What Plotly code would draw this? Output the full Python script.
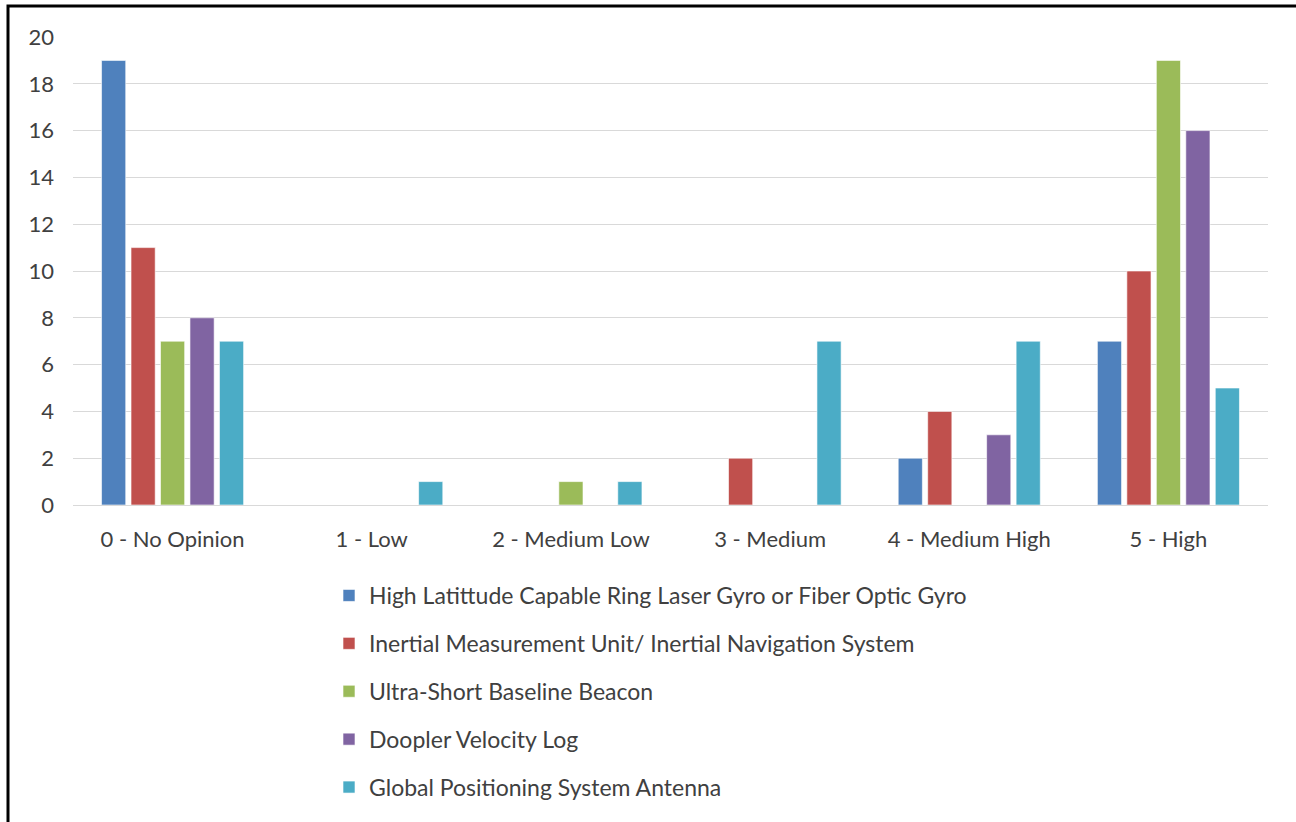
import plotly.graph_objects as go

categories = ["0 - No Opinion", "1 - Low", "2 - Medium Low", "3 - Medium", "4 - Medium High", "5 - High"]

series_names = [
    "High Latittude Capable Ring Laser Gyro or Fiber Optic Gyro",
    "Inertial Measurement Unit/ Inertial Navigation System",
    "Ultra-Short Baseline Beacon",
    "Doopler Velocity Log",
    "Global Positioning System Antenna",
]

gyro = [19, 0, 0, 0, 2, 7]
imu_ins = [11, 0, 0, 2, 4, 10]
usbl = [7, 0, 1, 0, 0, 19]
dvl = [8, 0, 0, 0, 3, 16]
gps = [7, 1, 1, 7, 7, 5]

series_values = [gyro, imu_ins, usbl, dvl, gps]
colors = ["#4F81BD", "#C0504D", "#9BBB59", "#8064A2", "#4BACC6"]

W, H = 1296, 822
L, R, T, B = 73, 28, 37, 317
plot_w = W - L - R
plot_h = H - T - B

fig = go.Figure()
for i, (name, vals, col) in enumerate(zip(series_names, series_values, colors)):
    fig.add_trace(go.Bar(
        x=categories, y=vals, name=name,
        marker=dict(color=col, line=dict(color="rgba(255,255,255,0.6)", width=1)),
        legendgroup=f"g{i}",
    ))

font_family = "Lato, 'Open Sans', sans-serif"
text_color = "#404040"
fsize = 22

# frame around the whole chart, running off the page at right and bottom
fx = (8 - L) / plot_w
fy = 1 + (T - 6) / plot_h
fig.add_shape(type="path",
              path=f"M {fx},-2 L {fx},{fy} L 1.2,{fy}",
              xref="paper", yref="paper",
              line=dict(color="black", width=3))

fig.update_layout(
    width=W, height=H,
    margin=dict(l=L, r=R, t=T, b=B, pad=0, autoexpand=False),
    paper_bgcolor="white", plot_bgcolor="white",
    barmode="group", bargap=0.26, bargroupgap=0.18,
    font=dict(family=font_family, size=fsize, color=text_color),
    showlegend=True,
    legend=dict(
        x=(329 - L) / plot_w, xanchor="left",
        y=-(574 - (T + plot_h)) / plot_h, yanchor="top",
        orientation="v", tracegroupgap=15,
        font=dict(family=font_family, size=23, color=text_color),
        itemwidth=30,
    ),
    xaxis=dict(
        showgrid=False, showline=True, linecolor="#D9D9D9", linewidth=1,
        ticks="", ticklabelstandoff=15,
        tickfont=dict(family=font_family, size=fsize, color=text_color),
    ),
    yaxis=dict(
        range=[0, 20], dtick=2, showgrid=True, gridcolor="#D9D9D9", gridwidth=1,
        zeroline=True, zerolinecolor="#D9D9D9", zerolinewidth=1,
        showline=False, ticks="", ticklabelstandoff=18,
        tickfont=dict(family=font_family, size=fsize, color=text_color),
    ),
)

fig.write_html("out.html")
